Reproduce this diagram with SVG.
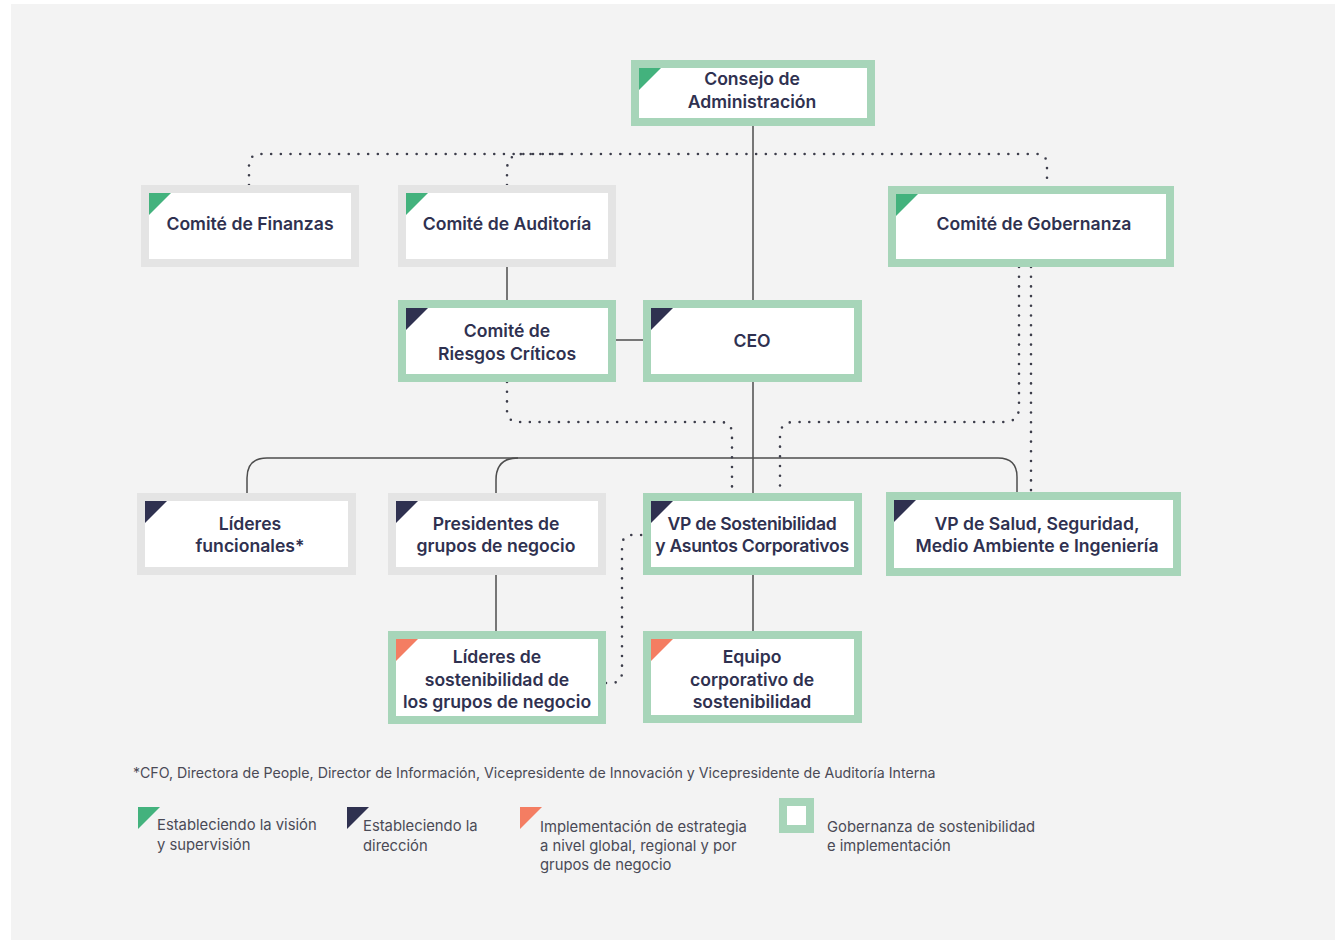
<svg xmlns="http://www.w3.org/2000/svg" width="1341" height="940" viewBox="0 0 1341 940">
<defs>
<style>
.bg{fill:#f3f3f3}
.g{fill:#ffffff;stroke:#a7d5b9;stroke-width:8}
.n{fill:#ffffff;stroke:#e4e4e4;stroke-width:8}
.tg{fill:#43b27d}
.td{fill:#2f3150}
.to{fill:#f47d62}
.lbl{font-family:Inter,"Noto Sans",sans-serif;font-weight:600;font-size:17.6px;fill:#2f3150;text-anchor:middle}
.tight{letter-spacing:-0.3px}
.leg{font-family:Inter,"Noto Sans",sans-serif;font-weight:400;font-size:14.8px;fill:#4a4a56}
.foot{font-size:14.2px}
.solid{fill:none;stroke:#4d4d4d;stroke-width:1.5}
.dot{fill:none;stroke:#3c3d4a;stroke-width:2.6;stroke-linecap:round;stroke-dasharray:0 9.7}
</style>
</defs>
<rect class="bg" x="11" y="4" width="1324" height="936"/>

<g id="connectors">
<path class="solid" d="M753,126 V300"/>
<path class="solid" d="M507,267 V300"/>
<path class="solid" d="M616,340 H643"/>
<path class="solid" d="M753,382 V493"/>
<path class="solid" d="M247,493 V478 Q247,458 267,458 H998 Q1017,458 1017,477 V492"/>
<path class="solid" d="M496,493 V480 Q496,458 518,458"/>
<path class="solid" d="M496,575 V631"/>
<path class="solid" d="M753,575 V631"/>
<path class="dot" d="M249,185 V166 Q249,154 261,154 H1036 Q1047,154 1047,165 V186"/>
<path class="dot" d="M507,185 V170 Q507,154 523,154 H565"/>
<path class="dot" d="M507,382 V410 Q507,422 519,422 H720 Q732,422 732,434 V493"/>
<path class="dot" d="M1019,267 V407 Q1019,422 1004,422 H794 Q780,422 780,436 V493"/>
<path class="dot" d="M1031,267 V492"/>
<path class="dot" d="M606,683 H611 Q622,683 622,672 V546 Q622,535 633,535 H643"/>
</g>

<g id="consejo">
<rect class="g" x="635" y="64" width="236" height="58"/>
<polygon class="tg" points="639,68 661,68 639,90"/>
<text class="lbl" x="752" y="85">Consejo de</text>
<text class="lbl" x="752" y="108">Administración</text>
</g>

<g id="finanzas">
<rect class="n" x="145" y="189" width="210" height="74"/>
<polygon class="tg" points="149,193 171,193 149,215"/>
<text class="lbl" x="250" y="230">Comité de Finanzas</text>
</g>

<g id="auditoria">
<rect class="n" x="402" y="189" width="210" height="74"/>
<polygon class="tg" points="406,193 428,193 406,215"/>
<text class="lbl" x="507" y="230">Comité de Auditoría</text>
</g>

<g id="gobernanza">
<rect class="g" x="892" y="190" width="278" height="73"/>
<polygon class="tg" points="896,194 918,194 896,216"/>
<text class="lbl" x="1034" y="230">Comité de Gobernanza</text>
</g>

<g id="riesgos">
<rect class="g" x="402" y="304" width="210" height="74"/>
<polygon class="td" points="406,308 428,308 406,330"/>
<text class="lbl" x="507" y="337">Comité de</text>
<text class="lbl" x="507" y="360">Riesgos Críticos</text>
</g>

<g id="ceo">
<rect class="g" x="647" y="304" width="211" height="74"/>
<polygon class="td" points="651,308 673,308 651,330"/>
<text class="lbl" x="752" y="347">CEO</text>
</g>

<g id="lideres-funcionales">
<rect class="n" x="141" y="497" width="211" height="74"/>
<polygon class="td" points="145,501 167,501 145,523"/>
<text class="lbl" x="250" y="530">Líderes</text>
<text class="lbl" x="250" y="552">funcionales*</text>
</g>

<g id="presidentes">
<rect class="n" x="392" y="497" width="210" height="74"/>
<polygon class="td" points="396,501 418,501 396,523"/>
<text class="lbl" x="496" y="530">Presidentes de</text>
<text class="lbl" x="496" y="552">grupos de negocio</text>
</g>

<g id="vp-sostenibilidad">
<rect class="g" x="647" y="497" width="211" height="74"/>
<polygon class="td" points="651,501 673,501 651,523"/>
<text class="lbl tight" x="752" y="530">VP de Sostenibilidad</text>
<text class="lbl tight" x="752" y="552">y Asuntos Corporativos</text>
</g>

<g id="vp-salud">
<rect class="g" x="890" y="496" width="287" height="76"/>
<polygon class="td" points="894,500 916,500 894,522"/>
<text class="lbl" x="1037" y="530">VP de Salud, Seguridad,</text>
<text class="lbl" x="1037" y="552">Medio Ambiente e Ingeniería</text>
</g>

<g id="lideres-sostenibilidad">
<rect class="g" x="392" y="635" width="210" height="85"/>
<polygon class="to" points="396,639 418,639 396,661"/>
<text class="lbl" x="497" y="663">Líderes de</text>
<text class="lbl" x="497" y="686">sostenibilidad de</text>
<text class="lbl" x="497" y="708">los grupos de negocio</text>
</g>

<g id="equipo">
<rect class="g" x="647" y="635" width="211" height="84"/>
<polygon class="to" points="651,639 673,639 651,661"/>
<text class="lbl" x="752" y="663">Equipo</text>
<text class="lbl" x="752" y="686">corporativo de</text>
<text class="lbl" x="752" y="708">sostenibilidad</text>
</g>

<g id="legend">
<text class="leg foot" x="133" y="778">*CFO, Directora de People, Director de Información, Vicepresidente de Innovación y Vicepresidente de Auditoría Interna</text>
<polygon class="tg" points="138,807 160,807 138,829"/>
<text class="leg" x="157" y="830">Estableciendo la visión</text>
<text class="leg" x="157" y="850">y supervisión</text>
<polygon class="td" points="347,807 369,807 347,829"/>
<text class="leg" x="363" y="831">Estableciendo la</text>
<text class="leg" x="363" y="851">dirección</text>
<polygon class="to" points="520,807 542,807 520,829"/>
<text class="leg" x="540" y="832">Implementación de estrategia</text>
<text class="leg" x="540" y="851">a nivel global, regional y por</text>
<text class="leg" x="540" y="870">grupos de negocio</text>
<rect x="779" y="798" width="35" height="35" fill="#a7d5b9"/>
<rect x="787" y="806" width="19" height="19" fill="#ffffff"/>
<text class="leg" x="827" y="832">Gobernanza de sostenibilidad</text>
<text class="leg" x="827" y="851">e implementación</text>
</g>
</svg>
